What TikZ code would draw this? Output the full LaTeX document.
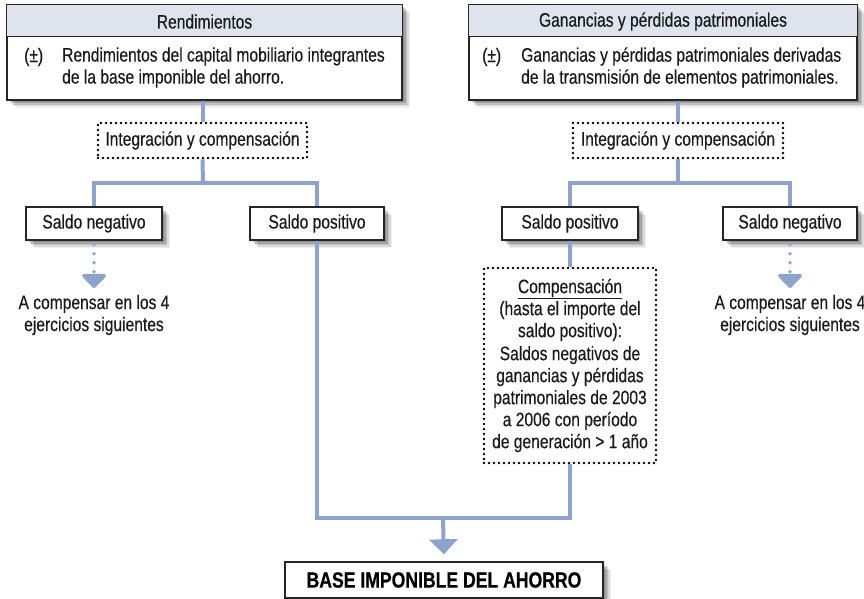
\documentclass[tikz,border=0pt]{standalone}
\usepackage{fontspec}
\setmainfont{Liberation Sans}[FakeStretch=0.8, UprightFeatures={FakeBold=0.4}, BoldFeatures={FakeBold=0.6}]
\usetikzlibrary{shadows,arrows.meta,calc}
\definecolor{lineblue}{HTML}{8DA2CD}
\definecolor{hdrfill}{HTML}{DEE3EE}
\definecolor{txt}{HTML}{1A1A1A}
\begin{document}
\begin{tikzpicture}[x=1pt,y=-1pt,
  every node/.style={font=\fontsize{19.5pt}{22pt}\selectfont, text=txt, inner sep=0pt},
  shbox/.style={draw=black!85, line width=1.4pt, fill=white,
    drop shadow={shadow xshift=2pt, shadow yshift=-2pt, fill=black, opacity=0.14},
    drop shadow={shadow xshift=3.5pt, shadow yshift=-3.5pt, fill=black, opacity=0.14},
    drop shadow={shadow xshift=5pt, shadow yshift=-5pt, fill=black, opacity=0.12},
    drop shadow={shadow xshift=6.5pt, shadow yshift=-6.5pt, fill=black, opacity=0.09},
    drop shadow={shadow xshift=8pt, shadow yshift=-8pt, fill=black, opacity=0.06}},
  dotbox/.style={draw=black, line width=2.8pt, dash pattern=on 0pt off 5pt, line cap=round},
  flow/.style={draw=lineblue, line width=4pt},
  flowarrow/.style={flow, -{Triangle[width=28pt,length=15pt]}},
  dotarrow/.style={draw=lineblue, line width=3.8pt, line cap=round, dash pattern=on 0pt off 9pt,
    -{Triangle[width=28pt,length=15pt,round=false]}, shorten <=4pt}
]
\useasboundingbox (0,0) rectangle (864,599);

% ---------- header boxes ----------
\node[shbox, minimum width=395pt, minimum height=95pt] (h1) at (204.5,52.5) {};
\fill[hdrfill] ($(h1.north west)+(0.7,0.7)$) rectangle ($(h1.north east)+(-0.7,32)$);
\draw[black!85, line width=1.4pt] ($(h1.north west)+(0,32)$) -- ($(h1.north east)+(0,32)$);
\node (h1t) at (204.5,21.5) {Rendimientos};
\node[anchor=west] (h1p) at (24,57) {(±)};
\node[anchor=west, align=left] (h1b) at (62,67.5) {Rendimientos del capital mobiliario integrantes\\de la base imponible del ahorro.};

\node[shbox, minimum width=388pt, minimum height=95pt] (h2) at (663,52.5) {};
\fill[hdrfill] ($(h2.north west)+(0.7,0.7)$) rectangle ($(h2.north east)+(-0.7,32)$);
\draw[black!85, line width=1.4pt] ($(h2.north west)+(0,32)$) -- ($(h2.north east)+(0,32)$);
\node (h2t) at (663,21.5) {Ganancias y pérdidas patrimoniales};
\node[anchor=west] (h2p) at (482,57) {(±)};
\node[anchor=west, align=left] (h2b) at (521,67.5) {Ganancias y pérdidas patrimoniales derivadas\\de la transmisión de elementos patrimoniales.};

% ---------- integration boxes ----------
\node[dotbox, minimum width=209pt, minimum height=35pt] (i1) at (202.5,140.5) {Integración y compensación};
\node[dotbox, minimum width=210pt, minimum height=35pt] (i2) at (678,140.5) {Integración y compensación};

% ---------- saldo boxes ----------
\node[shbox, minimum width=136pt, minimum height=33pt] (sn1) at (94,223.5) {Saldo negativo};
\node[shbox, minimum width=134pt, minimum height=33pt] (sp1) at (317,223.5) {Saldo positivo};
\node[shbox, minimum width=136pt, minimum height=33pt] (sp2) at (570,223.5) {Saldo positivo};
\node[shbox, minimum width=134pt, minimum height=33pt] (sn2) at (790,223.5) {Saldo negativo};

% ---------- compensation box ----------
\node[dotbox, minimum width=172pt, minimum height=195pt, align=center] (c) at (570,365.5)
  {\underline{Compensación}\\(hasta el importe del\\saldo positivo):\\[1pt]Saldos negativos de\\ganancias y pérdidas\\patrimoniales de 2003\\a 2006 con período\\de generación > 1 año};

% ---------- texts ----------
\node[align=center] (a1) at (94,315) {A compensar en los 4\\ejercicios siguientes};
\node[align=center] (a2) at (790,315) {A compensar en los 4\\ejercicios siguientes};

% ---------- base box ----------
\node[shbox, minimum width=318pt, minimum height=36pt, font=\fontsize{22pt}{24pt}\selectfont\bfseries, text=black] (base) at (444,580) {BASE IMPONIBLE DEL AHORRO};

% ---------- coordinates ----------
\coordinate (j1) at (203,183);
\coordinate (j2) at (678,183);
\coordinate (t1) at (94,288);
\coordinate (t2) at (790,288);
\coordinate (jb) at (443,518);

% ---------- connectors ----------
\draw[flow] (i1.north |- h1.south) -- (i1.north);
\draw[flow] (i1.south) -- (j1);
\draw[flow] (sn1.north) -- (sn1.north |- j1) -- (sp1.north |- j1) -- (sp1.north);
\draw[flow] (i2.north |- h2.south) -- (i2.north);
\draw[flow] (i2.south) -- (j2);
\draw[flow] (sp2.north) -- (sp2.north |- j2) -- (sn2.north |- j2) -- (sn2.north);
\draw[flow] (sp2.south) -- (c.north);
\draw[flow] (sp1.south) -- (sp1.south |- jb) -- (c.south |- jb) -- (c.south);
\draw[flowarrow, shorten >=7pt] (jb) -- (base.north);
\draw[dotarrow] (sn1.south) -- (t1);
\draw[dotarrow] (sn2.south) -- (t2);
\end{tikzpicture}
\end{document}
